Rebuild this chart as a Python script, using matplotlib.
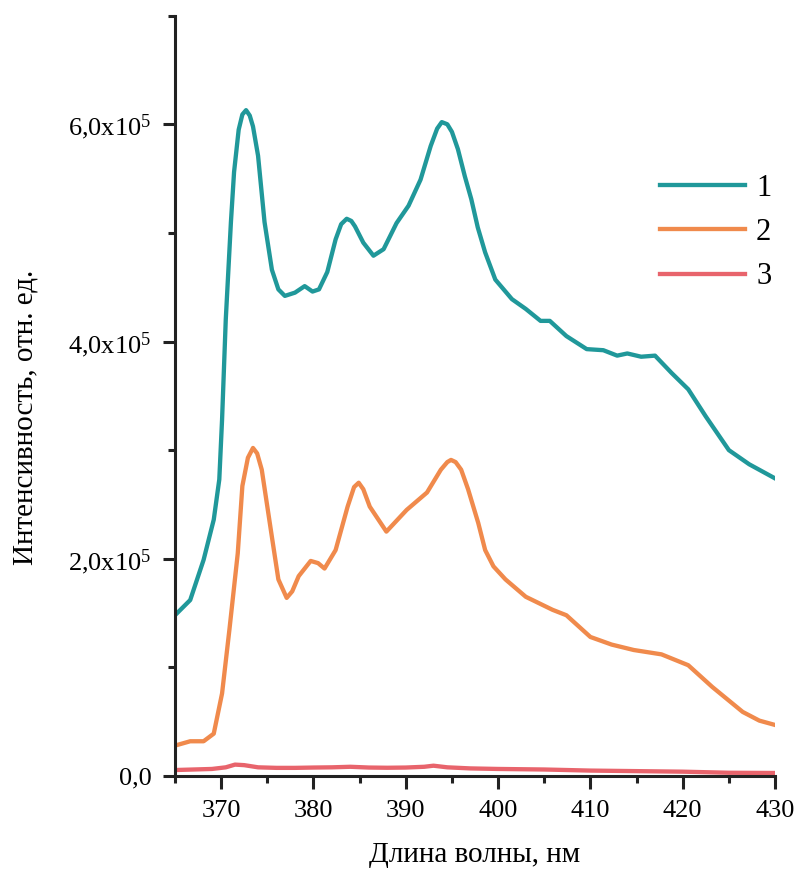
import numpy as np
import matplotlib
matplotlib.use('Agg')
import matplotlib.pyplot as plt
from matplotlib.ticker import MultipleLocator, FixedLocator, FixedFormatter

plt.rcParams['font.family'] = ['Liberation Serif', 'DejaVu Serif']
plt.rcParams['mathtext.fontset'] = 'custom'
plt.rcParams['mathtext.rm'] = 'Liberation Serif'

# curve 1 (teal)
wl1 = [365, 366.65, 368.1, 369.2, 369.8, 370.1, 370.5, 371.06, 371.4, 371.9, 372.3, 372.7, 373.1, 373.45,
       374.0, 374.7, 375.5, 376.2, 376.9, 378.0, 379.05, 379.9, 380.6, 381.5, 382.4, 383.0, 383.6, 384.1,
       384.5, 385.4, 386.5, 387.6, 389.0, 390.3, 391.6, 392.7, 393.4, 393.9, 394.5, 395.0, 395.65, 396.4,
       397.1, 397.8, 398.6, 399.7, 401.5, 403.0, 404.6, 405.6, 407.4, 409.6, 411.4, 412.9, 414.0, 415.5,
       417.0, 418.8, 420.6, 422.5, 425.0, 427.2, 430]
i1 = [1.48e5, 1.62e5, 1.99e5, 2.36e5, 2.73e5, 3.28e5, 4.2e5, 5.1e5, 5.56e5, 5.95e5, 6.09e5, 6.13e5, 6.08e5,
      5.98e5, 5.71e5, 5.1e5, 4.66e5, 4.48e5, 4.42e5, 4.45e5, 4.51e5, 4.46e5, 4.48e5, 4.64e5, 4.94e5, 5.08e5,
      5.13e5, 5.11e5, 5.06e5, 4.91e5, 4.79e5, 4.85e5, 5.09e5, 5.25e5, 5.49e5, 5.8e5, 5.96e5, 6.02e5, 6.0e5,
      5.93e5, 5.77e5, 5.52e5, 5.31e5, 5.05e5, 4.82e5, 4.57e5, 4.39e5, 4.3e5, 4.19e5, 4.19e5, 4.05e5, 3.93e5,
      3.92e5, 3.87e5, 3.89e5, 3.86e5, 3.87e5, 3.71e5, 3.56e5, 3.31e5, 3.0e5, 2.87e5, 2.74e5]

# curve 2 (orange)
wl2 = [365, 366.65, 368.1, 369.2, 370.1, 370.9, 371.8, 372.3, 372.9, 373.45, 373.9, 374.4, 375.5, 376.2,
       377.1, 377.7, 378.4, 379.7, 380.5, 381.2, 382.4, 383.7, 384.4, 384.9, 385.4, 386.1, 387.9, 390.1,
       392.3, 393.8, 394.5, 394.9, 395.4, 396.0, 396.75, 397.85, 398.6, 399.5, 400.8, 403.0, 405.9, 407.4,
       410.0, 412.3, 414.7, 417.7, 420.6, 423.2, 426.5, 428.3, 430]
i2 = [2.8e4, 3.2e4, 3.2e4, 3.9e4, 7.6e4, 1.35e5, 2.05e5, 2.67e5, 2.93e5, 3.02e5, 2.97e5, 2.82e5, 2.2e5,
      1.81e5, 1.64e5, 1.7e5, 1.84e5, 1.98e5, 1.96e5, 1.91e5, 2.08e5, 2.48e5, 2.66e5, 2.7e5, 2.64e5, 2.48e5,
      2.25e5, 2.45e5, 2.61e5, 2.82e5, 2.89e5, 2.91e5, 2.89e5, 2.82e5, 2.64e5, 2.33e5, 2.08e5, 1.93e5,
      1.81e5, 1.65e5, 1.53e5, 1.48e5, 1.28e5, 1.21e5, 1.16e5, 1.12e5, 1.02e5, 8.2e4, 5.9e4, 5.1e4, 4.7e4]

# curve 3 (red)
wl3 = [365, 367, 369, 370.5, 371.5, 372.5, 374, 376, 378, 380, 382, 384, 386, 388, 390, 392, 393, 394.5,
       397, 400, 405, 410, 415, 420, 425, 430]
i3 = [5.5e3, 6e3, 6.5e3, 8e3, 1.05e4, 1.0e4, 8e3, 7.5e3, 7.5e3, 7.8e3, 8e3, 8.5e3, 7.8e3, 7.6e3, 7.8e3,
      8.5e3, 9.5e3, 8e3, 7e3, 6.5e3, 6e3, 5e3, 4.5e3, 4e3, 3e3, 2.8e3]

yticks = [0, 2e5, 4e5, 6e5]
ytick_labels = ['0,0', r'2,0x10$\mathregular{^5}$', r'4,0x10$\mathregular{^5}$', r'6,0x10$\mathregular{^5}$']

fig = plt.figure(figsize=(7.99, 8.69), dpi=100)
ax = fig.add_axes([0.219, 0.107, 0.751, 0.875])

ax.plot(wl1, i1, color='#20989a', lw=3.1, label='1', solid_joinstyle='round')
ax.plot(wl2, i2, color='#f08a4c', lw=3.1, label='2', solid_joinstyle='round')
ax.plot(wl3, i3, color='#e8646c', lw=3.1, label='3', solid_joinstyle='round')

ax.set_xlim(365, 430)
ax.set_ylim(0, 7e5)
ax.xaxis.set_major_locator(FixedLocator([370, 380, 390, 400, 410, 420, 430]))
ax.xaxis.set_minor_locator(MultipleLocator(5))
ax.yaxis.set_major_locator(FixedLocator(yticks))
ax.yaxis.set_major_formatter(FixedFormatter(ytick_labels))
ax.yaxis.set_minor_locator(MultipleLocator(1e5))

for s in ['top', 'right']:
    ax.spines[s].set_visible(False)
for s in ['left', 'bottom']:
    ax.spines[s].set_linewidth(2.2)
    ax.spines[s].set_color('#222222')
ax.tick_params(which='major', direction='out', length=9, width=2.2, labelsize=19, color='#222222', pad=8)
ax.tick_params(which='minor', direction='out', length=5, width=2.2, color='#222222')

ax.set_xlabel('Длина волны, нм', fontsize=21, labelpad=15)
ax.set_ylabel('Интенсивность, отн. ед.', fontsize=21)
ax.yaxis.set_label_coords(-0.228, 0.472)

ax.legend(loc='upper left', bbox_to_anchor=(0.808, 0.792), frameon=False, fontsize=22,
          handlelength=2.8, handletextpad=0.35, labelspacing=0.5, borderpad=0, borderaxespad=0)

fig.savefig('out.png', dpi=100)
